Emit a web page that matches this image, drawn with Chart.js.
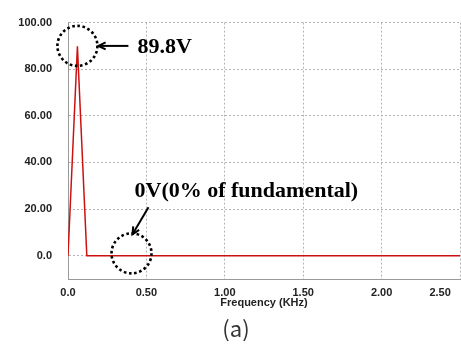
<!DOCTYPE html>
<html>
<head>
<meta charset="utf-8">
<script src="https://cdn.jsdelivr.net/npm/chart.js@4/dist/chart.umd.min.js"></script>
<style>
  html, body { margin: 0; padding: 0; background: #fff; }
  #wrap { width: 461px; height: 346px; }
</style>
</head>
<body>
<div id="wrap"><canvas id="myChart" width="461" height="346"></canvas></div>
<script>
// spectrum data (kHz, volts)
const freq = [0, 0.06, 0.12, 2.5];
const volts = [0, 89.8, 0, 0];

const xTicks = [0, 0.5, 1.0, 1.5, 2.0, 2.5];
const xTickLabels = ['0.0', '0.50', '1.00', '1.50', '2.00', '2.50'];
const yTicks = [0, 20, 40, 60, 80, 100];
const yTickLabels = ['0.0', '20.00', '40.00', '60.00', '80.00', '100.00'];

const xTitle = 'Frequency (KHz)';
const caption = '(a)';
const peakNote = '89.8V';
const zeroNote = '0V(0% of fundamental)';

const ctx = document.getElementById('myChart').getContext('2d');

function dottedCircle(c, x, y, r) {
  c.save();
  c.strokeStyle = '#000';
  c.lineWidth = 2.6;
  c.setLineDash([2.6, 2.6]);
  c.beginPath();
  c.arc(x, y, r, 0, Math.PI * 2);
  c.stroke();
  c.restore();
}

function arrow(c, x1, y1, x2, y2) {
  const a = Math.atan2(y2 - y1, x2 - x1);
  c.save();
  c.strokeStyle = '#000';
  c.lineWidth = 2;
  c.beginPath();
  c.moveTo(x1, y1);
  c.lineTo(x2, y2);
  c.stroke();
  c.beginPath();
  c.moveTo(x2 - 8 * Math.cos(a - 0.45), y2 - 8 * Math.sin(a - 0.45));
  c.lineTo(x2, y2);
  c.lineTo(x2 - 8 * Math.cos(a + 0.45), y2 - 8 * Math.sin(a + 0.45));
  c.stroke();
  c.restore();
}

const notes = {
  id: 'notes',
  afterDraw(chart) {
    const c = chart.ctx;
    const xs = chart.scales.x, ys = chart.scales.y;

    // peak marker
    const px = xs.getPixelForValue(0.06), py = ys.getPixelForValue(90);
    dottedCircle(c, px, py, 20);
    arrow(c, px + 51, py, px + 21, py);
    c.save();
    c.fillStyle = '#000';
    c.font = 'bold 22px "Liberation Serif"';
    c.textBaseline = 'middle';
    c.fillText(peakNote, px + 60, py + 1);
    c.restore();

    // zero marker
    const zx = xs.getPixelForValue(0.405), zy = ys.getPixelForValue(1);
    dottedCircle(c, zx, zy, 20);
    arrow(c, zx + 17, zy - 46, zx + 1, zy - 19);
    c.save();
    c.fillStyle = '#000';
    c.font = 'bold 22px "Liberation Serif"';
    c.textBaseline = 'alphabetic';
    c.fillText(zeroNote, zx + 3, zy - 56);
    c.restore();

    // caption
    c.save();
    c.fillStyle = '#333';
    c.font = '22px "Noto Sans CJK KR"';
    c.textAlign = 'center';
    c.textBaseline = 'middle';
    c.fillText(caption, 236, 329);
    c.restore();
  }
};

new Chart(ctx, {
  type: 'line',
  data: {
    datasets: [{
      data: freq.map((f, i) => ({ x: f, y: volts[i] })),
      borderColor: '#cc1111',
      borderWidth: 1.5,
      pointRadius: 0,
      tension: 0,
      fill: false
    }]
  },
  options: {
    responsive: false,
    animation: false,
    layout: { padding: { top: 12, right: 1, bottom: 36, left: 0 } },
    plugins: { legend: { display: false }, tooltip: { enabled: false } },
    scales: {
      x: {
        type: 'linear',
        min: 0,
        max: 2.5,
        afterBuildTicks: (s) => { s.ticks = xTicks.map(v => ({ value: v })); },
        afterFit: (s) => { s.height = 31; s.paddingRight = 0; s.paddingLeft = 0; },
        ticks: {
          autoSkip: false,
          maxRotation: 0,
          padding: 7,
          color: '#222',
          font: { family: 'Arial, "Liberation Sans"', size: 11, weight: 'bold' },
          callback: (v) => {
            const i = xTicks.indexOf(v);
            const t = xTickLabels[i];
            return i === xTicks.length - 1 ? t + '             ' : t;
          }
        },
        grid: { color: '#b4b4b4', drawTicks: false },
        border: { display: true, color: '#999', width: 1, dash: [2, 2] },
        title: {
          display: true,
          text: xTitle,
          color: '#222',
          padding: 0,
          font: { family: 'Arial, "Liberation Sans"', size: 11, weight: 'bold' }
        }
      },
      y: {
        min: -10,
        max: 100,
        afterBuildTicks: (s) => { s.ticks = yTicks.map(v => ({ value: v })); },
        afterFit: (s) => { s.width = 68; },
        ticks: {
          padding: 16,
          color: '#222',
          font: { family: 'Arial, "Liberation Sans"', size: 11, weight: 'bold' },
          callback: (v) => yTickLabels[yTicks.indexOf(v)]
        },
        grid: { color: '#b4b4b4', drawTicks: false },
        border: { display: true, color: '#999', width: 1, dash: [2, 2] }
      }
    }
  },
  plugins: [notes]
});
</script>
</body>
</html>
